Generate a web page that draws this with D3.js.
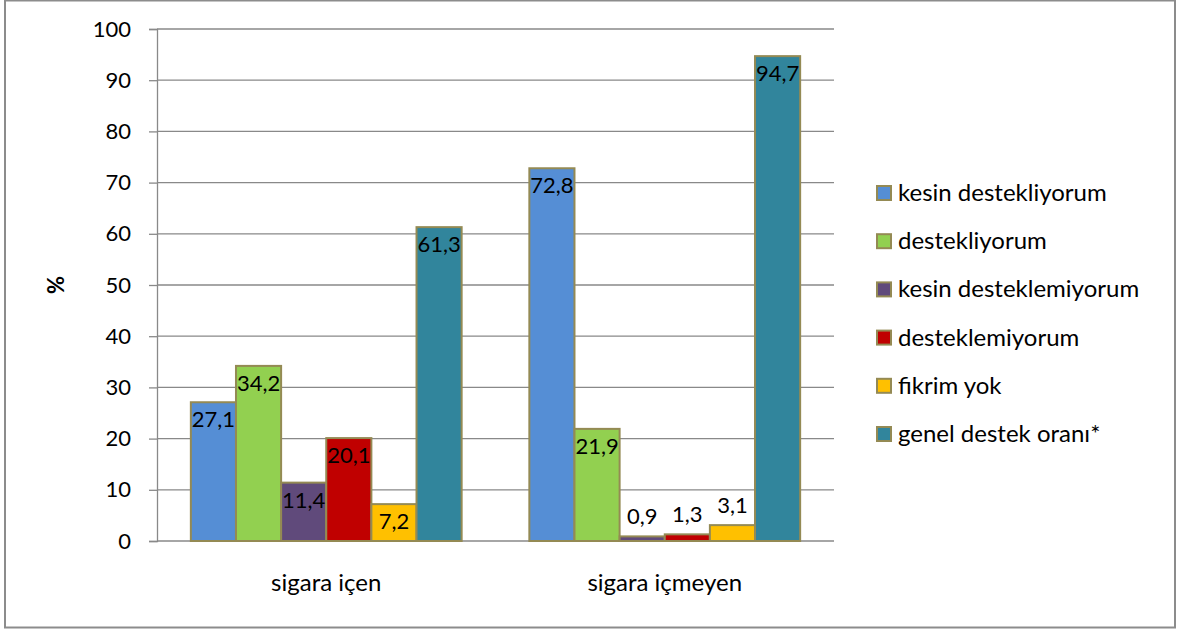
<!DOCTYPE html>
<html>
<head>
<meta charset="utf-8">
<script src="https://cdnjs.cloudflare.com/ajax/libs/d3/7.8.5/d3.min.js"></script>
<style>
  html, body { margin: 0; padding: 0; background: #fff; }
  svg { display: block; font-family: Lato, "Open Sans", sans-serif; }
</style>
</head>
<body>
<svg id="chart" width="1178" height="630"></svg>
<script>
// Survey groups and answer categories
const groups = ["sigara içen", "sigara içmeyen"];
const seriesNames = [
  "kesin destekliyorum",
  "destekliyorum",
  "kesin desteklemiyorum",
  "desteklemiyorum",
  "fikrim yok",
  "genel destek oranı*"
];
const seriesColors = ["#558ED5", "#92D050", "#604A7B", "#C00000", "#FFC000", "#31859C"];
// Percentages per series: [sigara içen, sigara içmeyen]
const kesinDestekliyorum = [27.1, 72.8];
const destekliyorum = [34.2, 21.9];
const kesinDesteklemiyorum = [11.4, 0.9];
const desteklemiyorum = [20.1, 1.3];
const fikrimYok = [7.2, 3.1];
const genelDestek = [61.3, 94.7];
const yTicks = [0, 10, 20, 30, 40, 50, 60, 70, 80, 90, 100];

const seriesValues = [kesinDestekliyorum, destekliyorum, kesinDesteklemiyorum,
                      desteklemiyorum, fikrimYok, genelDestek];

const svg = d3.select("#chart");
const fmt = v => String(v).replace(".", ",");
const numSize = 22;   // numbers: ticks and value labels
const wordSize = 24;  // words: categories and legend

// Outer frame
svg.append("rect")
  .attr("x", 5).attr("y", 0.5).attr("width", 1170).attr("height", 627)
  .attr("fill", "#fff").attr("stroke", "#8c8c8c").attr("stroke-width", 2);

const plot = { left: 157, right: 834, top: 29, bottom: 541 };

const x0 = d3.scaleBand().domain(groups).range([plot.left, plot.right]).paddingInner(0).paddingOuter(0);
const x1 = d3.scaleBand().domain(d3.range(seriesNames.length))
  .range([x0.bandwidth() * 0.1, x0.bandwidth() * 0.9]).padding(0);
const y = d3.scaleLinear().domain([0, 100]).range([plot.bottom, plot.top]);

// Horizontal gridlines
svg.append("g")
  .selectAll("line")
  .data(yTicks.filter(t => t > 0))
  .join("line")
  .attr("x1", plot.left).attr("x2", plot.right)
  .attr("y1", d => y(d)).attr("y2", d => y(d))
  .attr("stroke", "#898989").attr("stroke-width", 1.3);

// Y axis
const yAxis = svg.append("g")
  .attr("transform", `translate(${plot.left},0)`)
  .call(d3.axisLeft(y).tickValues(yTicks).tickSize(8).tickPadding(18));
yAxis.select(".domain").attr("stroke", "#898989").attr("stroke-width", 1.3);
yAxis.selectAll(".tick line").attr("stroke", "#898989").attr("stroke-width", 1.3);
yAxis.selectAll(".tick text").attr("font-size", numSize).attr("fill", "#000")
  .attr("font-family", "Lato, 'Open Sans', sans-serif");

// X axis baseline
svg.append("line")
  .attr("x1", plot.left).attr("x2", plot.right)
  .attr("y1", y(0)).attr("y2", y(0))
  .attr("stroke", "#898989").attr("stroke-width", 1.3);

// Bars
const barData = [];
groups.forEach((g, gi) => {
  seriesValues.forEach((vals, si) => {
    barData.push({ group: g, s: si, v: vals[gi] });
  });
});

const bars = svg.append("g");
bars.selectAll("rect")
  .data(barData)
  .join("rect")
  .attr("x", d => x0(d.group) + x1(d.s))
  .attr("y", d => y(d.v))
  .attr("width", x1.bandwidth())
  .attr("height", d => y(0) - y(d.v))
  .attr("fill", d => seriesColors[d.s])
  .attr("stroke", "#948A54").attr("stroke-width", 2);

// Value labels: inside the top of the bar when it fits, above otherwise
svg.append("g")
  .selectAll("text")
  .data(barData)
  .join("text")
  .attr("x", d => x0(d.group) + x1(d.s) + x1.bandwidth() / 2)
  .attr("y", d => (y(0) - y(d.v)) > 26 ? y(d.v) + 25 : y(d.v) - 12)
  .attr("text-anchor", "middle")
  .attr("font-size", numSize)
  .attr("fill", "#000")
  .text(d => fmt(d.v));

// Category labels
svg.append("g")
  .selectAll("text")
  .data(groups)
  .join("text")
  .attr("x", d => x0(d) + x0.bandwidth() / 2)
  .attr("y", 591)
  .attr("text-anchor", "middle")
  .attr("font-size", wordSize)
  .attr("fill", "#000")
  .text(d => d);

// Y axis title
svg.append("text")
  .attr("transform", "translate(64,285) rotate(-90)")
  .attr("text-anchor", "middle")
  .attr("font-size", 22)
  .attr("font-weight", "bold")
  .attr("fill", "#000")
  .text("%");

// Legend
const legend = svg.append("g");
const rows = legend.selectAll("g")
  .data(seriesNames)
  .join("g")
  .attr("transform", (d, i) => `translate(876,${193 + i * 48.2})`);
rows.append("rect")
  .attr("x", 1).attr("y", -7).attr("width", 14).attr("height", 14)
  .attr("fill", (d, i) => seriesColors[i])
  .attr("stroke", "#948A54").attr("stroke-width", 2);
rows.append("text")
  .attr("x", 22).attr("y", 8)
  .attr("font-size", wordSize)
  .attr("fill", "#000")
  .text(d => d);
</script>
</body>
</html>
